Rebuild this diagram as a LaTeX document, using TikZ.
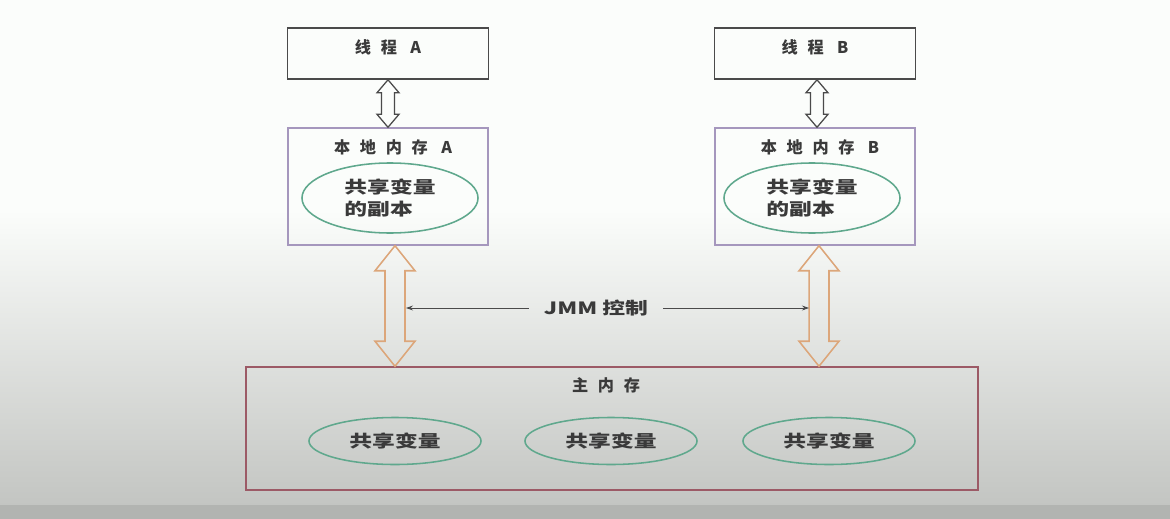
\documentclass[tikz,border=0pt]{standalone}
\usepackage{fontspec}
\setmainfont{Noto Sans CJK SC}
\newfontfamily\cjkspaced[LetterSpace=60]{Noto Sans CJK SC}
\newfontfamily\cjkwide[FakeStretch=1.35]{Noto Sans CJK SC}
\usepackage{tikz}
\usetikzlibrary{arrows.meta, positioning, calc, shapes.geometric}

\definecolor{txtgray}{HTML}{3A3A3A}
\definecolor{boxgray}{HTML}{4A4A4A}
\definecolor{lilac}{HTML}{A597BD}
\definecolor{rosebrown}{HTML}{9C5A66}
\definecolor{tealgreen}{HTML}{5FA88D}
\definecolor{busorange}{HTML}{DCA67A}
\definecolor{bgtop}{HTML}{FBFDFB}
\definecolor{bgbot}{HTML}{C3C5C2}
\definecolor{bgband}{HTML}{B2B4B1}

% hollow double arrow between two points: style, top, bottom, half shaft, half head, head length
\newcommand{\fatarrow}[6]{%
  \draw[#1] let \p1=(#2), \p2=(#3) in
    (\x1,\y1) -- (\x1+#5,\y1-#6) -- (\x1+#4,\y1-#6) -- (\x1+#4,\y2+#6) -- (\x1+#5,\y2+#6)
    -- (\x1,\y2) -- (\x1-#5,\y2+#6) -- (\x1-#4,\y2+#6) -- (\x1-#4,\y1-#6) -- (\x1-#5,\y1-#6) -- cycle;}

\begin{document}
\begin{tikzpicture}[x=0.025cm, y=-0.025cm,
  threadbox/.style={draw=boxgray, line width=1.1pt, minimum width=5.025cm, minimum height=1.275cm, inner sep=0pt, text depth=0.35cm, font=\cjkspaced\bfseries\fontsize{11.5}{14}\selectfont, text=txtgray},
  localbox/.style={draw=lilac, line width=1pt, minimum width=5cm, minimum height=2.925cm, inner sep=0pt},
  mainbox/.style={draw=rosebrown, line width=1pt, minimum width=18.3cm, minimum height=3.075cm, inner sep=0pt},
  memtitle/.style={font=\cjkspaced\bfseries\fontsize{11.5}{14}\selectfont, text=txtgray, inner sep=0pt},
  copyvar/.style={ellipse, draw=tealgreen, line width=1.1pt, minimum width=4.4cm, minimum height=1.75cm, inner sep=0pt, align=left, font=\cjkwide\bfseries\fontsize{12}{15.6}\selectfont, text=txtgray},
  sharedvar/.style={copyvar, minimum width=4.3cm, minimum height=1.175cm},
  ctltext/.style={font=\cjkwide\bfseries\fontsize{12}{14}\selectfont, text=txtgray, inner xsep=0.375cm, inner ysep=0pt},
  busarrow/.style={draw=busorange, line width=1.1pt, line join=miter},
  syncarrow/.style={draw=boxgray, line width=0.9pt},
  ctlline/.style={draw=boxgray, line width=0.6pt, -{Stealth[length=5pt, width=3.5pt]}}]
\useasboundingbox (0,0) rectangle (1170,519);
\fill[bgtop] (0,0) rectangle (1170,210);
\shade[top color=bgtop, bottom color=bgbot] (0,210) rectangle (1170,505);
\fill[bgband] (0,505) rectangle (1170,519);

\node[threadbox] (thrA) at (388,53.5) {线程 A};
\node[threadbox] (thrB) at (815,53.5) {线程 B};

\node[localbox] (locA) at (388,186.5) {};
\node[localbox] (locB) at (815,186.5) {};
\node[memtitle] (tA) at (393,147) {本地内存 A};
\node[memtitle] (tB) at (820,147) {本地内存 B};
\node[copyvar] (cpA) at (390,198) {共享变量\\的副本};
\node[copyvar] (cpB) at (812,198) {共享变量\\的副本};

\node[mainbox] (main) at (612,428.5) {};
\node[memtitle] (tM) at (606,385) {主内存};
\node[sharedvar] (v1) at (395,441) {共享变量};
\node[sharedvar] (v2) at (611,441) {共享变量};
\node[sharedvar] (v3) at (829,441) {共享变量};

\node[ctltext] (jmm) at (596,308) {JMM 控制};

\coordinate (bA) at ($(locA.south)+(7,0)$);
\coordinate (bB) at ($(locB.south)+(4,0)$);
\fatarrow{busarrow}{bA}{bA |- main.north}{7.1pt}{14.2pt}{17.8pt}
\fatarrow{busarrow}{bB}{bB |- main.north}{7.1pt}{14.2pt}{17.8pt}
\fatarrow{syncarrow}{thrA.south}{locA.north}{4.6pt}{7.8pt}{9.2pt}
\fatarrow{syncarrow}{$(thrB.south)+(2,0)$}{$(locB.north)+(2,0)$}{4.6pt}{7.8pt}{9.2pt}

\draw[ctlline] (jmm.west) -- ($(jmm.west -| bA)+(11,0)$);
\draw[ctlline] (jmm.east) -- ($(jmm.east -| bB)+(-10,0)$);
\end{tikzpicture}
\end{document}
